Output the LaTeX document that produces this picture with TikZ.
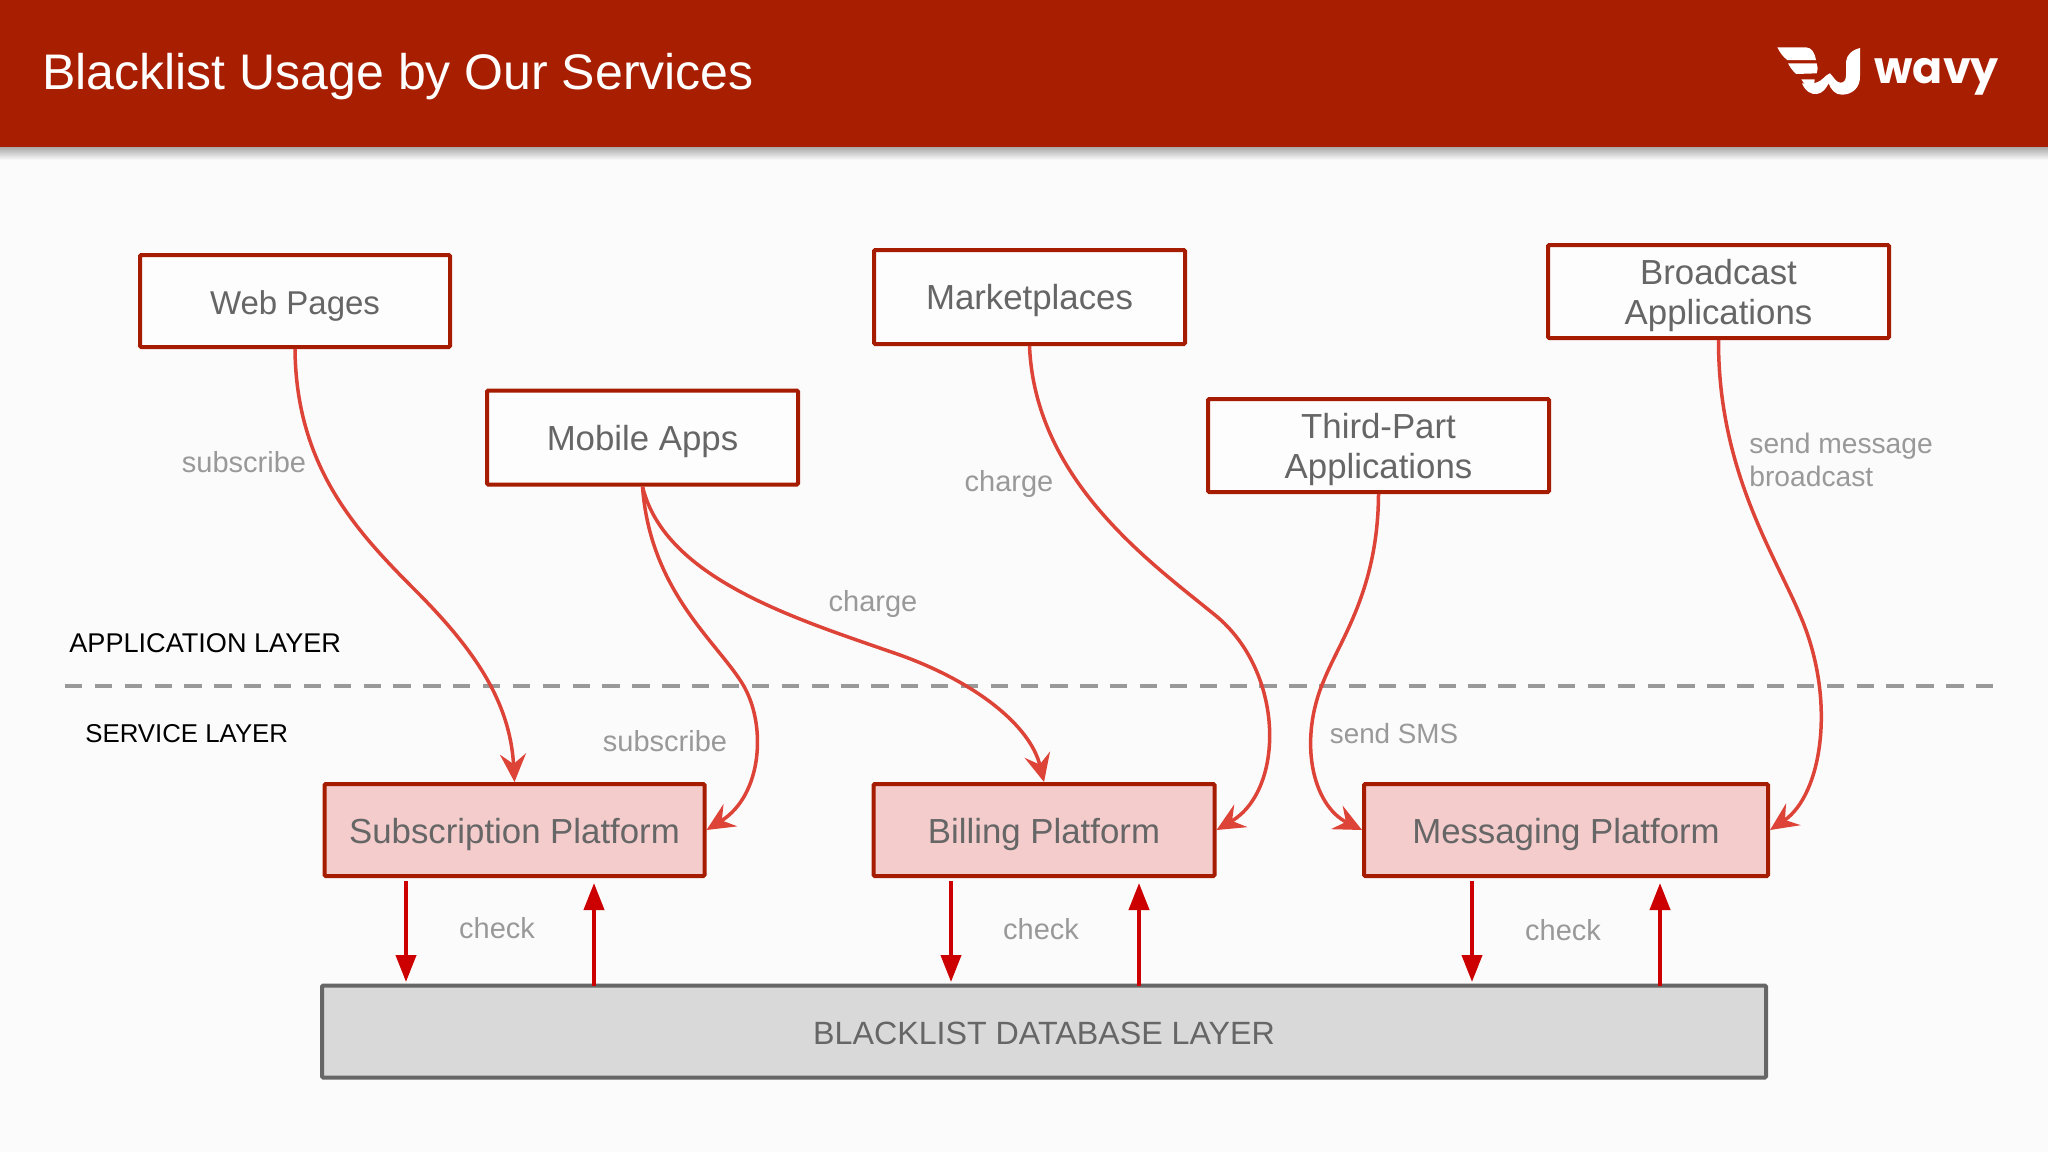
\documentclass[tikz,border=0pt]{standalone}
\usepackage{fontspec}
\setmainfont{Liberation Sans}
\newfontfamily\logofont{Poppins}
\usetikzlibrary{arrows.meta}
\definecolor{bgc}{HTML}{FBFBFC}
\definecolor{headc}{HTML}{A81E00}
\definecolor{edgec}{HTML}{A61C00}
\definecolor{curvec}{HTML}{DD4337}
\definecolor{checkc}{HTML}{CC0000}
\definecolor{pinkc}{HTML}{F4CCCC}
\definecolor{dbc}{HTML}{D9D9D9}
\definecolor{dbedge}{HTML}{666666}
\definecolor{boxtext}{HTML}{666666}
\definecolor{labelc}{HTML}{999999}
\definecolor{dashc}{HTML}{999999}
\newcommand\dropstrut{\rule{0pt}{16.6pt}}
\newcommand\twolines[2]{\begin{tabular}{@{}c@{}}\rule{0pt}{18.85pt}#1\\#2\end{tabular}}
\tikzset{
  x=0.5pt,y=-0.5pt,
  boxbase/.style={draw=edgec,line width=2pt,rounded corners=0.6pt,inner sep=0pt,text=boxtext,
    font=\fontsize{17.4}{20.2}\selectfont},
  appbox/.style={boxbase,fill=white!60!bgc,execute at begin node=\dropstrut},
  svcbox/.style={boxbase,fill=pinkc,execute at begin node=\dropstrut},
  dbbox/.style={boxbase,draw=dbedge,fill=dbc,font=\fontsize{16.1}{20}\selectfont,text height=13pt,text depth=0pt},
  flow/.style={draw=curvec,line width=1.75pt,-{Stealth[length=14pt,width=13pt,inset=5pt]}},
  checkarrow/.style={draw=checkc,line width=2pt,-{Triangle[length=13.5pt,width=10pt]}},
  lbl/.style={text=labelc,font=\fontsize{14.5}{17}\selectfont,inner sep=0pt,align=left},
  layer/.style={text=black,inner sep=0pt,anchor=west},
  wing/.style={fill=white,draw=none}
}
\begin{document}
\begin{tikzpicture}
\useasboundingbox (0,0) rectangle (2048,1152);
\fill[bgc] (0,0) rectangle (2048,1152);
\shade[top color=black!35!bgc,bottom color=bgc] (0,146) rectangle (2048,160);
\fill[headc] (0,0) rectangle (2048,147);
\node[text=white,font=\fontsize{25}{30}\selectfont,anchor=west,inner sep=0pt] (title) at (42,77) {Blacklist Usage by Our Services};

% logo
\begin{scope}[shift={(1700,20)},x=0.16667pt,y=-0.16667pt]
\fill[wing] (232,82) -- (318,82) .. controls (335,82) and (345,100) .. (348,120) -- (262,120) .. controls (250,112) and (240,98) .. (232,82) -- cycle;
\fill[wing] (264,130) -- (350,130) .. controls (354,140) and (354,150) .. (350,160) -- (288,162) .. controls (278,152) and (270,142) .. (264,130) -- cycle;
\fill[wing] (304,178) -- (344,178) .. controls (346,185) and (342,190) .. (336,198) -- (320,198) .. controls (314,192) and (308,186) .. (304,178) -- cycle;
\fill[wing] (306,190) .. controls (316,215) and (335,224) .. (350,222) .. controls (368,220) and (378,205) .. (386,190) .. controls (392,208) and (405,224) .. (425,224) .. controls (455,224) and (482,205) .. (480,165) -- (480,84) .. controls (455,90) and (440,105) .. (438,125) -- (438,165) .. controls (438,180) and (432,188) .. (422,188) .. controls (408,188) and (402,172) .. (390,160) .. controls (378,162) and (365,185) .. (348,188) .. controls (335,190) and (320,190) .. (306,190) -- cycle;
\end{scope}
\node[text=white,inner sep=0pt,anchor=base west,font=\logofont\fontsize{22.2}{28}\selectfont\bfseries] (logotext) at (1874,83) {wavy};

% boxes
\node[appbox,minimum width=155pt,minimum height=46pt,font=\fontsize{16.5}{20}\selectfont] (web) at (295,301) {Web Pages};
\node[appbox,minimum width=155.5pt,minimum height=47pt] (mobile) at (642.5,437.5) {Mobile Apps};
\node[appbox,minimum width=155.5pt,minimum height=47pt] (market) at (1029.5,297) {Marketplaces};
\node[appbox,minimum width=170.5pt,minimum height=46.5pt] (broad) at (1718.5,291.5) {\twolines{Broadcast}{Applications}};
\node[appbox,minimum width=170.5pt,minimum height=46.5pt] (third) at (1378.5,445.5) {\twolines{Third-Part}{Applications}};
\node[svcbox,minimum width=190pt,minimum height=46pt] (sub) at (514.5,830) {Subscription Platform};
\node[svcbox,minimum width=170.5pt,minimum height=46pt] (bill) at (1044,830) {Billing Platform};
\node[svcbox,minimum width=202pt,minimum height=46pt] (msg) at (1566,830) {Messaging Platform};
\node[dbbox,minimum width=722pt,minimum height=46pt] (db) at (1044,1031.5) {BLACKLIST DATABASE LAYER};

% layer line
\coordinate (dashL) at (65,686);
\coordinate (dashR) at (1993,686);
\draw[dashc,line width=2.4pt,dash pattern=on 8.65pt off 6.28pt] (dashL) -- (dashR);
\node[layer,font=\fontsize{13.55}{17}\selectfont] (applayer) at (69,643) {APPLICATION LAYER};
\node[layer,font=\fontsize{12.9}{17}\selectfont] (svclayer) at (85,734) {SERVICE LAYER};

% flows
\draw[flow] (web.south) .. controls (296,470) and (360,535) .. (420,595) .. controls (472,648) and (510,700) .. (sub.north);
\draw[flow] (mobile.south) .. controls (650,590) and (715,640) .. (742,683) .. controls (767,723) and (763,795) .. (sub.east);
\draw[flow] (mobile.south) .. controls (665,580) and (800,620) .. (900,655) .. controls (975,682) and (1030,725) .. (bill.north);
\draw[flow] (market.south) .. controls (1035,480) and (1150,562) .. (1215,615) .. controls (1285,672) and (1285,790) .. (bill.east);
\draw[flow] (third.south) .. controls (1378,590) and (1340,640) .. (1324,680) .. controls (1298,740) and (1312,805) .. (msg.west);
\draw[flow] (broad.south) .. controls (1718,470) and (1775,555) .. (1800,615) .. controls (1837,700) and (1822,795) .. (msg.east);

% check arrows
\foreach \n/\a/\b in {s/406/594,b/951/1139,m/1472/1660}{
  \coordinate (dn\n) at (\a,881);
  \coordinate (dnb\n) at (\a,982);
  \coordinate (up\n) at (\b,986);
  \coordinate (upt\n) at (\b,883);
  \draw[checkarrow] (dn\n) -- (dnb\n);
  \draw[checkarrow] (up\n) -- (upt\n);
}

% labels
\node[lbl] (l1) at (244,462) {subscribe};
\node[lbl] (l2) at (1009,484) {charge};
\node[lbl] (l3) at (873,604) {charge};
\node[lbl] (l4) at (665,741) {subscribe};
\node[lbl,font=\fontsize{13.9}{17}\selectfont] (l5) at (1394,734) {send SMS};
\node[lbl,anchor=west,font=\fontsize{14.1}{16.5}\selectfont] (l6) at (1749,460) {send message\\broadcast};
\node[lbl] (c1) at (497,928) {check};
\node[lbl] (c2) at (1041,929) {check};
\node[lbl] (c3) at (1563,930) {check};
\end{tikzpicture}
\end{document}
